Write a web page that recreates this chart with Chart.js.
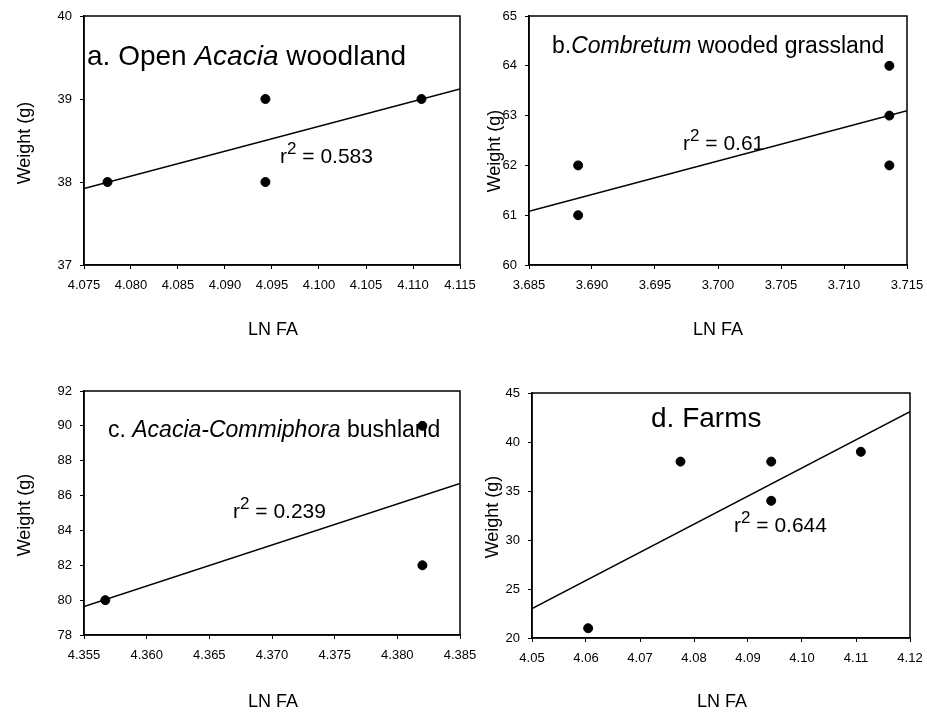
<!DOCTYPE html>
<html>
<head>
<meta charset="utf-8">
<script src="https://cdn.jsdelivr.net/npm/chart.js@4.4.1/dist/chart.umd.min.js"></script>
<style>
  body { margin: 0; background: #fff; }
  #wrap { position: relative; width: 927px; height: 716px; }
  #wrap canvas { position: absolute; left: 0; top: 0; }
</style>
</head>
<body>
<div id="wrap"></div>
<script>
// a. Open Acacia woodland
var lnFaA = [4.0775, 4.0943, 4.0943, 4.1109];
var weightA = [38, 39, 38, 39];
var fitXA = [4.075, 4.115];
var fitYA = [37.92, 39.12];
var xTicksA = [4.075, 4.080, 4.085, 4.090, 4.095, 4.100, 4.105, 4.110, 4.115];
var yTicksA = [37, 38, 39, 40];

// b. Combretum wooded grassland
var lnFaB = [3.6889, 3.6889, 3.7136, 3.7136, 3.7136];
var weightB = [62, 61, 64, 63, 62];
var fitXB = [3.685, 3.715];
var fitYB = [61.08, 63.10];
var xTicksB = [3.685, 3.690, 3.695, 3.700, 3.705, 3.710, 3.715];
var yTicksB = [60, 61, 62, 63, 64, 65];

// c. Acacia-Commiphora bushland
var lnFaC = [4.3567, 4.3820, 4.3820];
var weightC = [80, 82, 90];
var fitXC = [4.355, 4.385];
var fitYC = [79.63, 86.70];
var xTicksC = [4.355, 4.360, 4.365, 4.370, 4.375, 4.380, 4.385];
var yTicksC = [78, 80, 82, 84, 86, 88, 90, 92];

// d. Farms
var lnFaD = [4.0604, 4.0775, 4.0943, 4.0943, 4.1109];
var weightD = [21, 38, 38, 34, 39];
var fitXD = [4.05, 4.12];
var fitYD = [23.0, 43.1];
var xTicksD = [4.05, 4.06, 4.07, 4.08, 4.09, 4.10, 4.11, 4.12];
var yTicksD = [20, 25, 30, 35, 40, 45];

var FONT = '"Liberation Sans", Arial, sans-serif';
var PAGE_W = 927, PAGE_H = 716;
var Y_W = 40, X_H = 34; // fixed sizes of the scale boxes

var toPoints = function (xs, ys) {
    return xs.map(function (x, i) { return { x: x, y: ys[i] }; });
};

var drawParts = function (ctx, x, y, parts, size) { // texto con partes en cursiva / superindice
    parts.forEach(function (p) {
        var s = p.sup ? Math.round(size * 0.8) : size;
        ctx.font = (p.i ? 'italic ' : '') + s + 'px ' + FONT;
        ctx.fillText(p.t, x, p.sup ? y - size * 0.42 : y);
        x += ctx.measureText(p.t).width;
    });
};

var makePanel = function (p) {
    var canvas = document.createElement('canvas');
    canvas.width = PAGE_W;
    canvas.height = PAGE_H;
    document.getElementById('wrap').appendChild(canvas);

    var textPlugin = {
        id: 'panelText' + p.id,
        afterDraw: function (chart) {
            var ctx = chart.ctx;
            var a = chart.chartArea;
            ctx.save();
            ctx.strokeStyle = '#000';
            ctx.lineWidth = 1.5;
            ctx.strokeRect(a.left, a.top, a.right - a.left, a.bottom - a.top);
            ctx.fillStyle = '#000';
            ctx.textBaseline = 'alphabetic';
            ctx.textAlign = 'left';
            drawParts(ctx, p.title.x, p.title.y, p.title.parts, p.title.size);
            drawParts(ctx, p.r2.x, p.r2.y, [{ t: 'r' }, { t: '2', sup: true }, { t: ' = ' + p.r2.value }], p.r2.size);

            // titulos de ejes
            ctx.font = '18px ' + FONT;
            ctx.textAlign = 'center';
            ctx.textBaseline = 'middle';
            ctx.fillText('LN FA', p.xTitle[0], p.xTitle[1]);
            ctx.translate(p.yTitle[0], p.yTitle[1]);
            ctx.rotate(-Math.PI / 2);
            ctx.fillText('Weight (g)', 0, 0);
            ctx.restore();
        }
    };

    return new Chart(canvas, {
        type: 'scatter',
        data: {
            datasets: [{
                data: toPoints(p.xs, p.ys),
                backgroundColor: '#000',
                borderColor: '#000',
                pointRadius: 4.5,
                pointHoverRadius: 4.5
            }, {
                data: toPoints(p.fitX, p.fitY),
                showLine: true,
                borderColor: '#000',
                borderWidth: 1.5,
                pointRadius: 0,
                fill: false
            }]
        },
        options: {
            responsive: false,
            animation: false,
            events: [],
            layout: {
                padding: {
                    left: p.box[0] - Y_W,
                    top: p.box[1],
                    right: PAGE_W - p.box[2],
                    bottom: PAGE_H - p.box[3] - X_H
                }
            },
            plugins: {
                legend: { display: false },
                tooltip: { enabled: false }
            },
            scales: {
                x: {
                    type: 'linear',
                    min: p.xTicks[0],
                    max: p.xTicks[p.xTicks.length - 1],
                    afterBuildTicks: function (s) {
                        s.ticks = p.xTicks.map(function (v) { return { value: v }; });
                    },
                    afterFit: function (s) { // las etiquetas extremas pueden salir del area
                        s.height = X_H;
                        s.paddingLeft = 0;
                        s.paddingRight = 0;
                    },
                    ticks: {
                        callback: function (v) { return Number(v).toFixed(p.xDec); },
                        font: { size: 13, family: FONT },
                        color: '#000',
                        maxRotation: 0,
                        autoSkip: false,
                        padding: 9
                    },
                    grid: { drawOnChartArea: false, drawTicks: true, tickLength: 4, color: '#000', lineWidth: 1 },
                    border: { display: true, color: '#000', width: 1.5 }
                },
                y: {
                    type: 'linear',
                    min: p.yTicks[0],
                    max: p.yTicks[p.yTicks.length - 1],
                    afterBuildTicks: function (s) {
                        s.ticks = p.yTicks.map(function (v) { return { value: v }; });
                    },
                    afterFit: function (s) { s.width = Y_W; },
                    ticks: {
                        font: { size: 13, family: FONT },
                        color: '#000',
                        autoSkip: false,
                        padding: 8
                    },
                    grid: { drawOnChartArea: false, drawTicks: true, tickLength: 4, color: '#000', lineWidth: 1 },
                    border: { display: true, color: '#000', width: 1.5 }
                }
            }
        },
        plugins: [textPlugin]
    });
};

makePanel({
    id: 'a', box: [84, 16, 460, 265],
    xs: lnFaA, ys: weightA, fitX: fitXA, fitY: fitYA,
    xTicks: xTicksA, yTicks: yTicksA, xDec: 3,
    title: { x: 87, y: 65, size: 28, parts: [{ t: 'a. Open ' }, { t: 'Acacia', i: true }, { t: ' woodland' }] },
    r2: { x: 280, y: 163, size: 21, value: '0.583' },
    xTitle: [273, 330], yTitle: [25, 143]
});

makePanel({
    id: 'b', box: [529, 16, 907, 265],
    xs: lnFaB, ys: weightB, fitX: fitXB, fitY: fitYB,
    xTicks: xTicksB, yTicks: yTicksB, xDec: 3,
    title: { x: 552, y: 53, size: 23, parts: [{ t: 'b.' }, { t: 'Combretum', i: true }, { t: ' wooded grassland' }] },
    r2: { x: 683, y: 150, size: 21, value: '0.61' },
    xTitle: [718, 330], yTitle: [495, 151]
});

makePanel({
    id: 'c', box: [84, 391, 460, 635],
    xs: lnFaC, ys: weightC, fitX: fitXC, fitY: fitYC,
    xTicks: xTicksC, yTicks: yTicksC, xDec: 3,
    title: { x: 108, y: 437, size: 23, parts: [{ t: 'c. ' }, { t: 'Acacia-Commiphora', i: true }, { t: ' bushland' }] },
    r2: { x: 233, y: 518, size: 21, value: '0.239' },
    xTitle: [273, 702], yTitle: [25, 515]
});

makePanel({
    id: 'd', box: [532, 393, 910, 638],
    xs: lnFaD, ys: weightD, fitX: fitXD, fitY: fitYD,
    xTicks: xTicksD, yTicks: yTicksD, xDec: 2,
    title: { x: 651, y: 427, size: 28, parts: [{ t: 'd. Farms' }] },
    r2: { x: 734, y: 532, size: 21, value: '0.644' },
    xTitle: [722, 702], yTitle: [493, 517]
});
</script>
</body>
</html>
